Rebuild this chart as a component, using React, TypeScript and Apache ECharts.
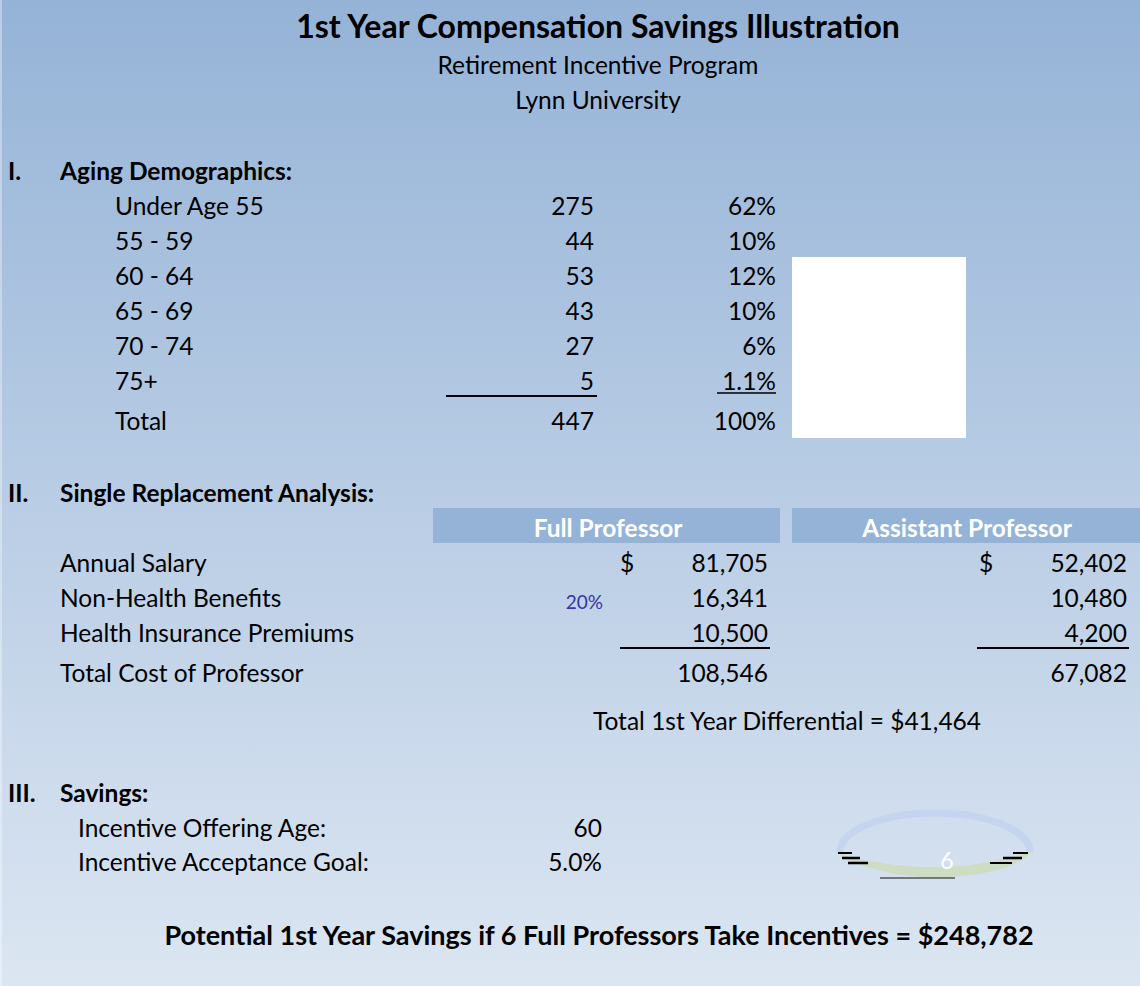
import React, { useEffect, useRef } from "react";
import * as echarts from "echarts";

const title = "1st Year Compensation Savings Illustration";
const subtitles = ["Retirement Incentive Program", "Lynn University"];

const ageGroups = ["Under Age 55", "55 - 59", "60 - 64", "65 - 69", "70 - 74", "75+", "Total"];
const ageCounts = ["275", "44", "53", "43", "27", "5", "447"];
const agePercents = ["62%", "10%", "12%", "10%", "6%", "1.1%", "100%"];

const costLabels = ["Annual Salary", "Non-Health Benefits", "Health Insurance Premiums", "Total Cost of Professor"];
const fullProfessor = ["81,705", "16,341", "10,500", "108,546"];
const assistantProfessor = ["52,402", "10,480", "4,200", "67,082"];
const columnHeads = ["Full Professor", "Assistant Professor"];
const benefitRate = "20%";
const differential = "Total 1st Year Differential = $41,464";

const savingsLabels = ["Incentive Offering Age:", "Incentive Acceptance Goal:"];
const savingsValues = ["60", "5.0%"];
const professorsTaking = "6";
const conclusion = "Potential 1st Year Savings if 6 Full Professors Take Incentives = $248,782";

const FONT = "Lato, 'Open Sans', sans-serif";

echarts.graphic.registerShape(
  "badgeArc",
  echarts.graphic.extendPath("M 0 41 A 95 39 0 0 1 190 41", {})
);

function txt(text: string, x: number, y: number, opts: any = {}) {
  return {
    type: "text",
    x,
    y,
    style: {
      text,
      fontFamily: FONT,
      fontSize: opts.size || 24.5,
      fontWeight: opts.bold ? "bold" : "normal",
      fill: opts.color || "#000",
      textAlign: opts.align || "left",
      textVerticalAlign: "middle",
    },
  };
}

function hline(x1: number, x2: number, y: number, w = 2, color = "#000") {
  return { type: "line", shape: { x1, y1: y, x2, y2: y }, style: { stroke: color, lineWidth: w } };
}

export default function App() {
  const ref = useRef<HTMLDivElement>(null);
  useEffect(() => {
    document.body.style.margin = "0";
    const chart = echarts.init(ref.current!, null, { renderer: "svg" });
    const els: any[] = [];

    els.push({
      type: "rect",
      shape: { x: 0, y: 0, width: 1140, height: 986 },
      style: {
        fill: new echarts.graphic.LinearGradient(0, 0, 0, 1, [
          { offset: 0, color: "#95b3d7" },
          { offset: 1, color: "#dce6f2" },
        ]),
      },
    });
    els.push({ type: "rect", shape: { x: 0, y: 0, width: 2, height: 986 }, style: { fill: "rgba(255,255,255,0.35)" } });

    els.push(txt(title, 598, 25, { size: 32, bold: true, align: "center" }));
    els.push(txt(subtitles[0], 598, 64, { align: "center" }));
    els.push(txt(subtitles[1], 598, 99, { align: "center" }));

    // Section I
    els.push(txt("I.", 8, 170, { bold: true }));
    els.push(txt("Aging Demographics:", 60, 170, { bold: true }));
    const ageY = [205, 240, 275, 310, 345, 380, 420];
    ageGroups.forEach((g, i) => {
      els.push(txt(g, 115, ageY[i]));
      els.push(txt(ageCounts[i], 594, ageY[i], { align: "right" }));
      els.push(txt(agePercents[i], 776, ageY[i], { align: "right" }));
    });
    els.push(hline(446, 597, 396));
    els.push(hline(717, 776, 393, 1.5));
    els.push({ type: "rect", shape: { x: 792, y: 257, width: 174, height: 181 }, style: { fill: "#ffffff" } });

    // Section II
    els.push(txt("II.", 8, 492, { bold: true }));
    els.push(txt("Single Replacement Analysis:", 60, 492, { bold: true }));
    els.push({ type: "rect", shape: { x: 433, y: 508, width: 347, height: 35 }, style: { fill: "#95b3d7" } });
    els.push({ type: "rect", shape: { x: 792, y: 508, width: 348, height: 35 }, style: { fill: "#95b3d7" } });
    els.push(txt(columnHeads[0], 608, 527, { bold: true, color: "#ffffff", align: "center" }));
    els.push(txt(columnHeads[1], 967, 527, { bold: true, color: "#ffffff", align: "center" }));
    const costY = [562, 597, 632, 672];
    costLabels.forEach((l, i) => {
      els.push(txt(l, 60, costY[i]));
      els.push(txt(fullProfessor[i], 768, costY[i], { align: "right" }));
      els.push(txt(assistantProfessor[i], 1127, costY[i], { align: "right" }));
    });
    els.push(txt("$", 620, 562));
    els.push(txt("$", 979, 562));
    els.push(txt(benefitRate, 603, 601, { size: 19, color: "#3535a8", align: "right" }));
    els.push(hline(620, 770, 648));
    els.push(hline(977, 1129, 648));
    els.push(txt(differential, 787, 720, { align: "center" }));

    // Section III
    els.push(txt("III.", 8, 792, { bold: true }));
    els.push(txt("Savings:", 60, 792, { bold: true }));
    savingsLabels.forEach((l, i) => {
      const y = [827, 861][i];
      els.push(txt(l, 78, y));
      els.push(txt(savingsValues[i], 602, y, { align: "right" }));
    });

    // ellipse badge: upper arc + lower band
    els.push({
      type: "badgeArc",
      x: 840,
      y: 811,
      style: { fill: "none", stroke: "#c5d4ef", lineWidth: 7 },
    });
    els.push({
      type: "polygon",
      shape: {
        points: [
          [836, 852], [850, 861], [870, 868], [895, 874], [920, 877], [950, 877], [980, 874], [1005, 868], [1020, 861], [1034, 852],
          [1015, 856], [995, 861], [970, 865], [945, 867], [920, 867], [895, 865], [870, 861], [850, 857],
        ],
      },
      style: { fill: "#cfdcc4", stroke: "none" },
    });
    els.push(hline(838, 852, 853, 2));
    els.push(hline(842, 860, 858, 2.5));
    els.push(hline(848, 868, 863, 2.5));
    els.push(hline(1013, 1028, 853, 2));
    els.push(hline(1003, 1022, 858, 2.5));
    els.push(hline(990, 1012, 863, 2));
    els.push(hline(880, 955, 878, 1.5, "#555"));
    els.push(txt(professorsTaking, 947, 860, { color: "#ffffff", size: 23, align: "center" }));

    els.push(txt(conclusion, 599, 934, { size: 27, bold: true, align: "center" }));

    chart.setOption({ animation: false, graphic: { elements: els } });
    return () => chart.dispose();
  }, []);
  return <div ref={ref} style={{ position: "absolute", left: 0, top: 0, width: 1140, height: 986 }} />;
}
